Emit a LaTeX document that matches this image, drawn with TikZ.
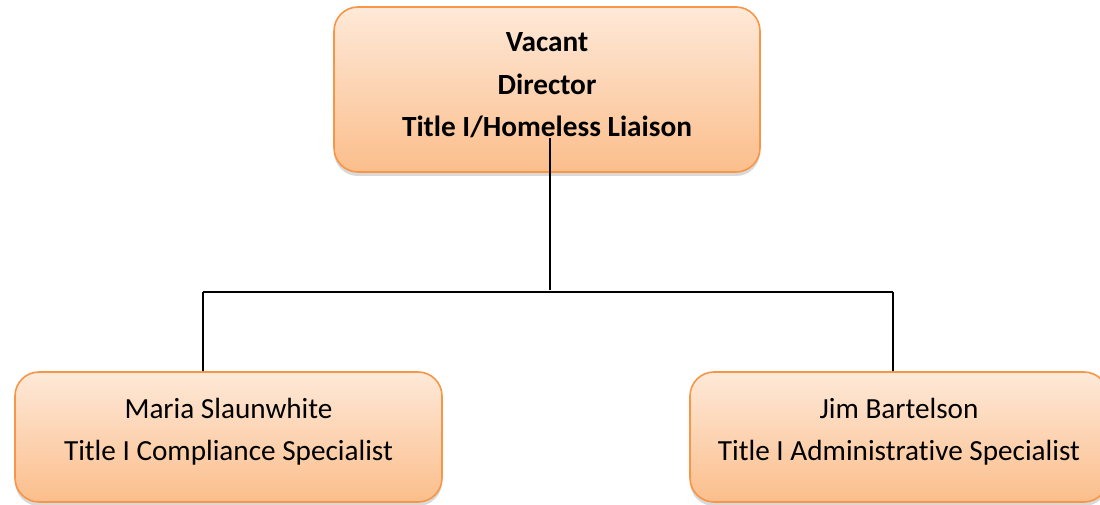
\documentclass[tikz,border=0pt]{standalone}
\usepackage{fontspec}
\setmainfont{Carlito}[Ligatures=NoCommon]
\usetikzlibrary{calc, shadows}
\definecolor{boxorange}{RGB}{247, 150, 70}
\definecolor{boxlight}{RGB}{254, 233, 216}
\definecolor{boxdark}{RGB}{251, 190, 140}
\tikzstyle{orgBox} = [shape=rectangle, rounded corners=24pt, draw=boxorange,
	line width=1.6pt, top color=boxlight, bottom color=boxdark, text=black,
	align=center, inner sep=0pt,
	drop shadow={shadow xshift=0pt, shadow yshift=-4pt, opacity=0.3},
	font=\fontsize{29.2}{42}\selectfont]
\tikzstyle{HeadBox} = [orgBox, minimum width=426pt, minimum height=165pt,
	font=\fontsize{29.3}{42.5}\selectfont\bfseries, text depth=9pt]
\tikzstyle{StaffBox} = [orgBox, minimum width=427pt, minimum height=130pt,
	text depth=16pt]
\tikzstyle{linkLine} = [line width=1.5pt, draw=black]

\begin{document}
\begin{tikzpicture}[x=1pt, y=1pt, node distance=347.5pt]
  \useasboundingbox (0,0) rectangle (1100,504);
  \node (DIR)   [HeadBox] at (547,414.5) {Vacant\\Director\\Title I/Homeless Liaison};
  \node (MARIA) [StaffBox, below of=DIR, xshift=-318.5pt] {Maria Slaunwhite\\Title I Compliance Specialist};
  \node (JIM)   [StaffBox, below of=DIR, xshift=352pt, minimum width=418pt] {Jim Bartelson\\Title I Administrative Specialist};

  \coordinate (STEM) at ($(DIR)+(3,-48.5)$);
  \coordinate (HUB)  at ($(DIR)+(3,-200.5)$);
  \coordinate (BUSL) at ($(MARIA.north)+(-25.5,79)$);
  \coordinate (BUSR) at ($(JIM.north)+(-6,79)$);

  \draw [linkLine] (STEM) -- (HUB);
  \draw [linkLine] (BUSL) -- (BUSR);
  \draw [linkLine] (BUSL) -- (BUSL |- MARIA.north);
  \draw [linkLine] (BUSR) -- (BUSR |- JIM.north);

\end{tikzpicture}
\end{document}
